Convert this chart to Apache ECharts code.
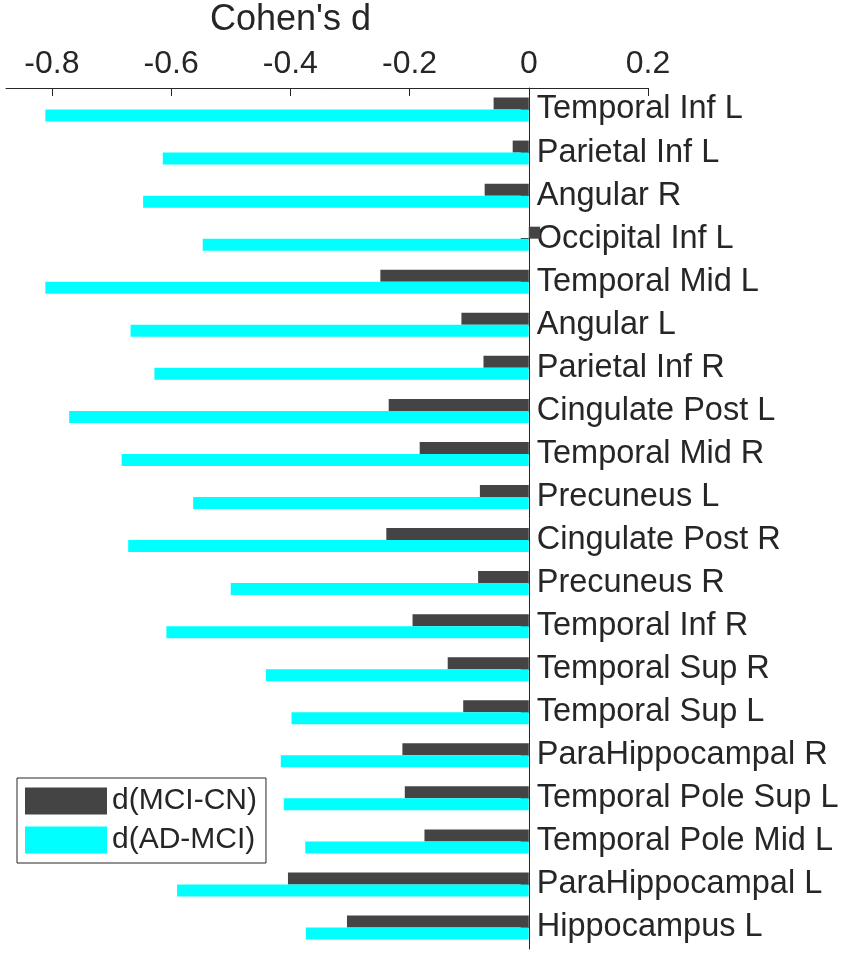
<!DOCTYPE html>
<html>
<head>
<meta charset="utf-8">
<title>Cohen's d</title>
<script src="https://cdn.jsdelivr.net/npm/echarts@6/dist/echarts.min.js"></script>
<style>
  html, body { margin: 0; padding: 0; background: #fff; }
  #main { width: 851px; height: 956px; }
</style>
</head>
<body>
<div id="main"></div>
<script>
// regions, top to bottom
var categories = [
  'Temporal Inf L', 'Parietal Inf L', 'Angular R', 'Occipital Inf L',
  'Temporal Mid L', 'Angular L', 'Parietal Inf R', 'Cingulate Post L',
  'Temporal Mid R', 'Precuneus L', 'Cingulate Post R', 'Precuneus R',
  'Temporal Inf R', 'Temporal Sup R', 'Temporal Sup L', 'ParaHippocampal R',
  'Temporal Pole Sup L', 'Temporal Pole Mid L', 'ParaHippocampal L', 'Hippocampus L'
];
// d(MCI-CN)
var mciCn = [
  -0.059, -0.027, -0.074, 0.019, -0.249, -0.113, -0.076, -0.235, -0.183, -0.082,
  -0.239, -0.085, -0.195, -0.136, -0.110, -0.212, -0.208, -0.175, -0.404, -0.305
];
// d(AD-MCI)
var adMci = [
  -0.811, -0.614, -0.647, -0.547, -0.811, -0.668, -0.628, -0.771, -0.683, -0.563,
  -0.672, -0.500, -0.608, -0.441, -0.398, -0.416, -0.411, -0.375, -0.590, -0.374
];
var xTicks = [-0.8, -0.6, -0.4, -0.2, 0, 0.2];
var xMin = -0.877, xMax = 0.2;

var ink = '#262626';
var font = '"Liberation Sans", Arial, Helvetica, sans-serif';

var myChart = echarts.init(document.getElementById('main'));
var option = {
  animation: false,
  textStyle: { fontFamily: font },
  graphic: [{
    type: 'text',
    left: 210,
    top: 2,
    style: { text: "Cohen's d", fontSize: 36, fontFamily: font, fill: ink }
  }],
  legend: {
    orient: 'vertical',
    left: 17,
    top: 778,
    icon: 'rect',
    itemWidth: 82,
    itemHeight: 27,
    itemGap: 9,
    padding: [8, 9, 8, 8],
    borderColor: ink,
    borderWidth: 1,
    textStyle: { fontSize: 30, color: ink, fontFamily: font },
    data: ['d(MCI-CN)', 'd(AD-MCI)']
  },
  grid: {
    left: 6,
    right: 203,
    top: 88,
    bottom: 7,
    containLabel: false,
    outerBoundsMode: 'none'
  },
  xAxis: {
    type: 'value',
    position: 'top',
    min: xMin,
    max: xMax,
    axisLine: { show: true, lineStyle: { color: ink, width: 1 } },
    axisTick: { show: true, inside: true, length: 8, customValues: xTicks, lineStyle: { color: ink } },
    axisLabel: {
      customValues: xTicks,
      fontSize: 32,
      color: ink,
      margin: 8,
      formatter: function (v) { return String(+v.toFixed(1)); }
    },
    splitLine: { show: false }
  },
  yAxis: {
    type: 'category',
    inverse: true,
    position: 'right',
    offset: 0,
    data: categories,
    axisLine: { show: true, onZero: false, lineStyle: { color: ink, width: 1 } },
    axisTick: { show: true, inside: true, alignWithLabel: true, length: 8, lineStyle: { color: ink } },
    axisLabel: { fontSize: 32.5, color: ink, margin: 8, padding: [6, 0, 0, 0] },
    splitLine: { show: false }
  },
  series: [
    {
      name: 'd(MCI-CN)',
      type: 'bar',
      data: mciCn,
      barWidth: 12,
      barGap: '0%',
      itemStyle: { color: '#444444' }
    },
    {
      name: 'd(AD-MCI)',
      type: 'bar',
      data: adMci,
      barWidth: 12,
      barGap: '0%',
      itemStyle: { color: '#00FFFF' }
    }
  ]
};
myChart.setOption(option);

// move the category axis (line, ticks, labels) from the grid edge to x = 0
var zeroPx = myChart.convertToPixel({ xAxisIndex: 0 }, 0);
var rightPx = myChart.convertToPixel({ xAxisIndex: 0 }, xMax);
myChart.setOption({ yAxis: { offset: zeroPx - rightPx } });
</script>
</body>
</html>
